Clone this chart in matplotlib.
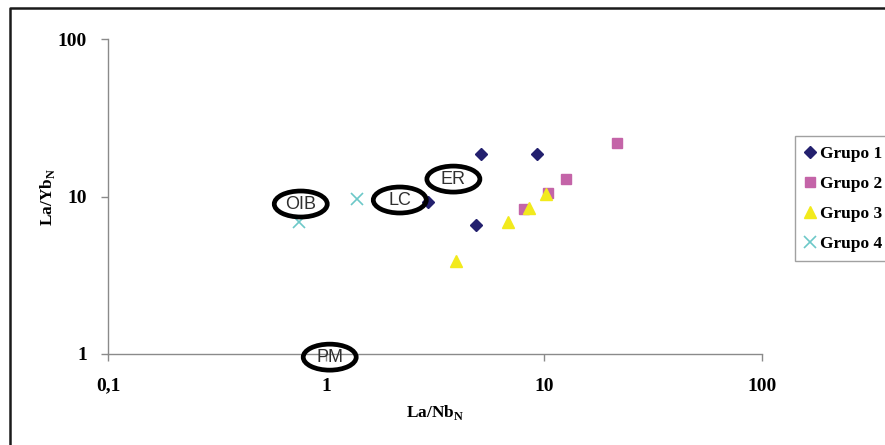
import matplotlib.pyplot as plt
from matplotlib.patches import Ellipse
from matplotlib.lines import Line2D
from matplotlib.transforms import ScaledTranslation

plt.rcParams['mathtext.fontset'] = 'custom'
plt.rcParams['mathtext.rm'] = 'Liberation Serif:bold'
plt.rcParams['mathtext.bf'] = 'Liberation Serif:bold'

# La/Nb_N (x) and La/Yb_N (y) per group
g1_x = [2.94, 4.87, 5.14, 9.29]
g1_y = [9.2, 6.6, 18.6, 18.6]
g2_x = [8.09, 10.4, 12.6, 21.6]
g2_y = [8.33, 10.5, 13.0, 21.8]
g3_x = [3.95, 6.86, 8.56, 10.2]
g3_y = [3.91, 6.92, 8.49, 10.4]
g4_x = [0.755, 1.39]
g4_y = [6.92, 9.6]

# reservoir labels
res_names = ['OIB', 'LC', 'ER', 'PM']
res_x = [0.766, 2.18, 3.84, 1.04]
res_y = [8.96, 9.5, 12.9, 0.955]

serif = 'Liberation Serif'

fig = plt.figure(figsize=(8.85, 4.45), dpi=100)
ax = fig.add_axes([108/885, 1-354/445, (762-108)/885, (354-39)/445])

ax.plot(g1_x, g1_y, 'D', color='#23206e', markersize=6, label='Grupo 1', zorder=3)
ax.plot(g2_x, g2_y, 's', color='#c464a8', markersize=7, label='Grupo 2', zorder=3)
ax.plot(g3_x, g3_y, '^', color='#f2ea1c', markersize=9, label='Grupo 3', zorder=3)
ax.plot(g4_x, g4_y, 'x', color='#6cc8c8', markersize=8, mew=1.2, label='Grupo 4', zorder=3)

ax.set_xscale('log')
ax.set_yscale('log')
ax.set_xlim(0.1, 100)
ax.set_ylim(1, 100)
ax.set_xticks([0.1, 1, 10, 100])
ax.set_xticklabels(['0,1', '1', '10', '100'])
ax.set_yticks([1, 10, 100])
ax.set_yticklabels(['1', '10', '100'])
ax.minorticks_off()

for s in ['top', 'right']:
    ax.spines[s].set_visible(False)
for s in ['left', 'bottom']:
    ax.spines[s].set_color('#8a8a8a')
    ax.spines[s].set_linewidth(1.0)
ax.tick_params(axis='both', colors='#8a8a8a', length=5, width=1.0, labelcolor='black')
ax.tick_params(axis='x', pad=12)
ax.tick_params(axis='y', pad=10)
for lab in ax.get_xticklabels() + ax.get_yticklabels():
    lab.set_fontfamily(serif)
    lab.set_fontweight('bold')
    lab.set_fontsize(14)

ax.set_xlabel(r'La/Nb$_{\mathregular{N}}$', fontfamily=serif, fontweight='bold', fontsize=12.5, labelpad=6)
ax.set_ylabel(r'La/Yb$_{\mathregular{N}}$', fontfamily=serif, fontweight='bold', fontsize=12.5, labelpad=1)

# ellipse labels, sized in inches so they stay round on log axes
for name, x, y in zip(res_names, res_x, res_y):
    tr = fig.dpi_scale_trans + ScaledTranslation(x, y, ax.transData)
    e = Ellipse((0, 0), 0.53, 0.26, transform=tr, fc='none', ec='black', lw=3.4, zorder=4, clip_on=False)
    ax.add_artist(e)
    ax.text(x, y, name, ha='center', va='center', fontsize=13, color='#303030',
            fontfamily='Liberation Sans', zorder=5, clip_on=False)

leg = fig.legend(loc='upper left', bbox_to_anchor=(795/885, 1-136/445), frameon=True,
                 prop={'family': serif, 'weight': 'bold', 'size': 12.5},
                 handlelength=0.6, handletextpad=0.3, labelspacing=0.8,
                 borderpad=0.55, fancybox=False, borderaxespad=0)
leg.get_frame().set_edgecolor('#8a8a8a')
leg.get_frame().set_linewidth(1.0)

# outer frame, cut off at the right and bottom
fig.add_artist(Line2D([10/885, 10/885, 1.05], [-0.1, 1-8/445, 1-8/445],
                      transform=fig.transFigure, color='#1a1a1a', lw=1.8))

fig.savefig('out.png', dpi=100)
